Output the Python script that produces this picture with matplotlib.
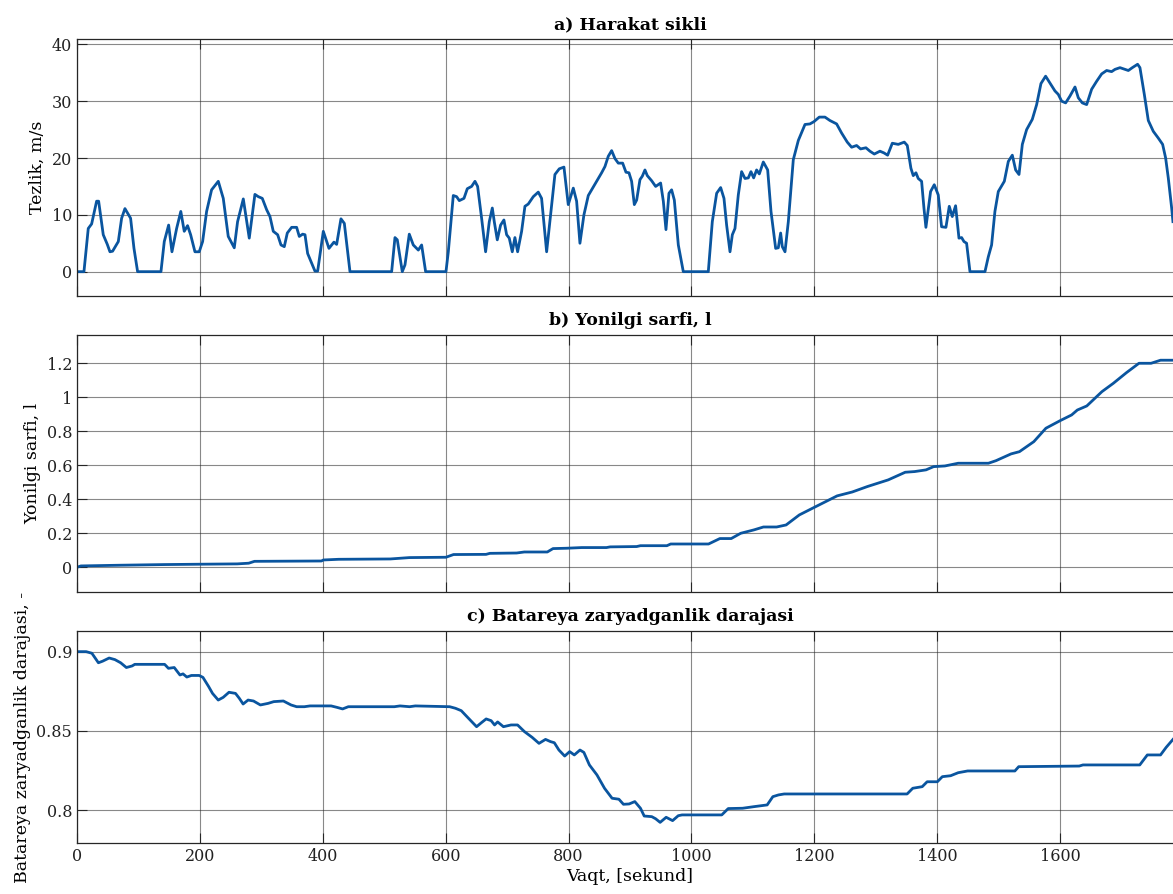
import numpy as np
import matplotlib
matplotlib.use("Agg")
import matplotlib.pyplot as plt
from matplotlib.ticker import FuncFormatter

# a) drive cycle speed, m/s
speed_t = [0, 11.4, 18.4, 23.9, 32, 35.3, 42.8, 49.4, 53.7, 58, 67.3, 72.7, 78.1, 87.3, 92.8, 98.7,
           136.7, 142.1, 149.2, 154.6, 162.2, 169, 174.6, 180, 185, 192, 199, 204.5, 211, 219.1, 230,
           238.1, 246.2, 256, 261.4, 270.7, 280.4, 289.6, 295.1, 301.6, 308.7, 314.1, 319.5, 326.6,
           332, 337.4, 342.3, 349.4, 357.5, 361.8, 367.3, 371.1, 375.4, 381.9, 387.3, 391.7, 400.9,
           410.1, 418.2, 422.6, 429.6, 435.1, 444.3, 512.1, 517.5, 521.3, 529.4, 533.8, 540.8, 547.3,
           555.5, 560.9, 567.4, 600.5, 604.3, 612.4, 617.8, 622.2, 629.8, 635.2, 642.2, 647.7, 652,
           658.5, 665, 671, 675.9, 679.1, 684, 689.4, 694.8, 699.2, 703.5, 708.4, 712.7, 717.1, 723.6,
           729, 734.4, 742.6, 750.7, 756.1, 764.3, 770.8, 777.8, 784.9, 792.5, 799.5, 807.7, 813.1,
           818.5, 825, 832.1, 839.1, 845.6, 853.8, 859.2, 864.6, 870.1, 875.5, 880.9, 888, 893.4,
           898.3, 902.6, 907, 910.8, 916.2, 920, 924.3, 928.1, 935.2, 941.7, 949.8, 954.2, 958.5,
           963.4, 967.7, 972.1, 978.6, 986.7, 1027.4, 1033.9, 1041, 1047.5, 1052.9, 1057.2, 1062.7,
           1066.5, 1070.8, 1076.2, 1081.6, 1087.1, 1092.5, 1096.8, 1101.2, 1106, 1110.4, 1116.9,
           1124, 1129.4, 1137, 1141.3, 1145.1, 1147.8, 1152.2, 1157.6, 1165.7, 1173.9, 1184.7,
           1192.8, 1199.3, 1208, 1217.2, 1225.3, 1236.2, 1244.3, 1253.5, 1260.6, 1268.7, 1275.2,
           1283.9, 1290.4, 1297.5, 1306.7, 1313.2, 1319.2, 1326.8, 1336.5, 1346.3, 1351.2, 1357.1,
           1360.9, 1365.3, 1369, 1374.5, 1378.3, 1381.5, 1389.1, 1395.1, 1401.6, 1407, 1414.1,
           1419.5, 1424.4, 1429.8, 1435.3, 1439.6, 1443.4, 1447.7, 1453.2, 1477.6, 1483, 1488.4,
           1493.8, 1499.3, 1509.1, 1515.6, 1522.1, 1527.5, 1533, 1538.4, 1545.4, 1554.6, 1561.7,
           1568.7, 1576.3, 1583.4, 1591.5, 1596.9, 1602.4, 1608.9, 1615.9, 1624.1, 1629.5, 1636,
           1643.1, 1651.2, 1659.3, 1667.5, 1675.6, 1683.7, 1689.2, 1697.3, 1705.4, 1710.9, 1717.4,
           1726, 1729.8, 1736.9, 1743.4, 1751.5, 1759.7, 1766.7, 1771.6, 1775.9, 1781.4, 1783.5]
speed_v = [0, 0, 7.6, 8.4, 12.4, 12.4, 6.5, 4.8, 3.5, 3.6, 5.3, 9.4, 11.1, 9.4, 4.1, 0,
           0, 5.3, 8.2, 3.5, 7.6, 10.6, 7.1, 8.1, 6.5, 3.5, 3.5, 5.3, 10.6, 14.4, 15.9,
           12.9, 6.2, 4.2, 8.8, 12.8, 5.9, 13.6, 13.2, 12.9, 10.9, 9.7, 7.1, 6.5,
           4.7, 4.4, 6.8, 7.8, 7.8, 6.2, 6.6, 6.5, 3.2, 1.5, 0.1, 0.1, 7.1,
           4.1, 5.2, 4.8, 9.3, 8.5, 0, 0, 6.0, 5.6, 0, 1.2, 6.6, 4.7,
           3.8, 4.7, 0, 0, 3.5, 13.4, 13.2, 12.5, 12.9, 14.6, 15.0, 15.9, 15.0,
           9.4, 3.5, 8.8, 11.2, 8.8, 5.6, 8.2, 9.1, 6.5, 5.9, 3.5, 6.0, 3.5, 7.1,
           11.5, 11.9, 13.2, 14.0, 12.9, 3.5, 10.0, 17.1, 18.1, 18.4, 11.8, 14.7, 12.4,
           5.0, 10.0, 13.4, 14.7, 15.9, 17.4, 18.5, 20.3, 21.3, 19.9, 19.1, 19.1, 17.5,
           17.4, 15.9, 11.8, 12.6, 16.2, 16.8, 17.9, 16.9, 16.0, 15.0, 15.6, 12.4, 7.4,
           13.8, 14.4, 12.6, 4.7, 0, 0, 8.8, 13.8, 14.8, 12.9, 8.2, 3.5,
           6.5, 7.6, 13.5, 17.6, 16.4, 16.5, 17.6, 16.5, 17.9, 17.2, 19.3,
           17.9, 10.6, 4.1, 4.2, 6.8, 4.4, 3.5, 8.8, 19.7, 23.1, 25.9,
           26.0, 26.4, 27.2, 27.2, 26.6, 26.0, 24.4, 22.8, 21.9, 22.2, 21.6,
           21.8, 21.2, 20.7, 21.2, 20.9, 20.5, 22.6, 22.4, 22.8, 22.2, 18.2,
           16.9, 17.4, 16.4, 15.9, 11.2, 7.8, 14.1, 15.3, 13.5, 7.9, 7.8,
           11.5, 9.7, 11.6, 5.9, 6.0, 5.3, 5.0, 0, 0, 2.6, 4.7,
           10.6, 14.1, 15.9, 19.4, 20.5, 17.9, 17.1, 22.4, 25.0, 26.8, 29.4,
           33.1, 34.4, 33.2, 31.8, 31.2, 30.0, 29.7, 30.9, 32.5, 30.6, 29.7,
           29.4, 32.1, 33.5, 34.8, 35.4, 35.2, 35.6, 35.9, 35.6, 35.4, 35.9,
           36.5, 35.9, 31.2, 26.6, 24.7, 23.5, 22.4, 20.0, 16.5, 11.2, 8.8]

# b) cumulative fuel use, l
fuel_t = [0, 6.4, 68, 142.5, 198.5, 260.8, 279.5, 288.9, 397.8, 401, 425.9, 510, 541, 600.4,
          612.8, 665.7, 671.9, 715.5, 728, 765.4, 774.7, 796.5, 821.4, 861.6, 867.7, 910.8, 917,
          960, 966.2, 1027.8, 1046.2, 1064.7, 1080.1, 1101.7, 1117.1, 1138.6, 1154, 1175.5, 1200.1,
          1237, 1261.7, 1286.3, 1320.1, 1347.8, 1363.2, 1381.7, 1394, 1412.4, 1434, 1483.2, 1495.5,
          1520.1, 1533.7, 1557.1, 1576.8, 1600.2, 1618.6, 1627.9, 1643.3, 1667.9, 1686.4, 1707.9,
          1728.2, 1747.9, 1763.3, 1783.6]
fuel_v = [0, 0.008, 0.012, 0.016, 0.018, 0.02, 0.024, 0.035, 0.037, 0.043, 0.047, 0.049, 0.057, 0.059,
          0.075, 0.076, 0.082, 0.084, 0.09, 0.09, 0.11, 0.112, 0.116, 0.116, 0.12, 0.122, 0.127,
          0.127, 0.137, 0.137, 0.169, 0.169, 0.2, 0.22, 0.237, 0.237, 0.249, 0.308, 0.353,
          0.42, 0.443, 0.475, 0.514, 0.559, 0.563, 0.573, 0.592, 0.596, 0.612, 0.612, 0.627,
          0.667, 0.68, 0.739, 0.818, 0.863, 0.896, 0.925, 0.949, 1.033, 1.082, 1.145,
          1.2, 1.2, 1.218, 1.218]

# c) battery state of charge, -
soc_t = [0, 15, 24.3, 34.9, 41.8, 52.4, 61.7, 71.1, 80.4, 89.8, 94.1, 142.7, 148.9, 158.3, 167.6,
         172.6, 178.8, 186.3, 198.8, 205, 214.3, 220.6, 229.9, 238, 247.4, 258, 264.2, 270.4, 278.5,
         287.3, 298.5, 311, 320.3, 335.9, 348.4, 357.5, 370, 379.3, 413.6, 423, 432.3, 441.6, 516.4,
         525.7, 541.3, 550.6, 606.6, 616, 625.4, 634.7, 650.3, 658.4, 665.9, 674, 679.6, 684.6, 694,
         706.4, 717, 728.2, 740.7, 751.9, 762.5, 770.6, 776.8, 784.3, 793.7, 801.8, 809.3, 818.6,
         824.9, 833.9, 846.2, 858.5, 870.8, 881.9, 889.3, 898.5, 907.8, 917, 923.1, 935.4, 941.6,
         949, 958.8, 969.3, 978.5, 984.7, 1049.3, 1059.8, 1083.2, 1101.6, 1123.2, 1132.4, 1141.6,
         1150.9, 1350.9, 1360.1, 1375.5, 1383.5, 1400.1, 1408.2, 1421.7, 1434, 1449.4, 1526.3,
         1532.5, 1631, 1637.1, 1729.5, 1741.8, 1763.3, 1772.5, 1783.6]
soc_v = [0.9, 0.9, 0.899, 0.893, 0.894, 0.896, 0.895, 0.893, 0.890, 0.891, 0.892, 0.892, 0.8895, 0.890,
         0.8853, 0.886, 0.884, 0.885, 0.885, 0.8838, 0.878, 0.8737, 0.8695, 0.8712, 0.8744, 0.8737,
         0.8706, 0.867, 0.8695, 0.8689, 0.8664, 0.8674, 0.8685, 0.8689, 0.8664, 0.8653, 0.8653,
         0.8658, 0.8658, 0.8649, 0.8639, 0.8653, 0.8653, 0.8658, 0.8653, 0.8658, 0.8653, 0.8643,
         0.8628, 0.859, 0.8527, 0.8553, 0.8576, 0.8565, 0.8538, 0.8557, 0.8527, 0.8538, 0.8538,
         0.8496, 0.846, 0.8422, 0.8447, 0.8433, 0.8426, 0.838, 0.8342, 0.837, 0.8349, 0.838,
         0.8365, 0.8286, 0.8223, 0.8139, 0.8076, 0.807, 0.8038, 0.804, 0.8055, 0.8013, 0.7964,
         0.796, 0.7947, 0.7924, 0.7956, 0.7935, 0.7966, 0.7971, 0.7971, 0.8011, 0.8013, 0.8023,
         0.8034, 0.8086, 0.8097, 0.8103, 0.8103, 0.8139, 0.8149, 0.818, 0.818, 0.8212, 0.8218,
         0.8237, 0.8248, 0.8248, 0.8275, 0.8279, 0.8286, 0.8286, 0.8349, 0.8349, 0.8397, 0.8447]

titles = ["a) Harakat sikli", "b) Yonilgi sarfi, l", "c) Batareya zaryadganlik darajasi"]
ylabels = ["Tezlik, m/s", "Yonilgi sarfi, l", "Batareya zaryadganlik darajasi, -"]
yticks = [[0, 10, 20, 30, 40], [0, 0.2, 0.4, 0.6, 0.8, 1.0, 1.2], [0.8, 0.85, 0.9]]
ylims = [(-4.33, 40.9), (-0.147, 1.368), (0.7792, 0.9132)]
xticks = list(range(0, 1601, 200))

plt.rcParams["font.family"] = ["DejaVu Serif"]
line_color = "#0a559f"
ink = "#262626"

fig = plt.figure(figsize=(11.73, 8.94), dpi=100)
# axes run a little past the right edge of the figure, so the 1800 s end is cut off
left, width = 0.0656, 0.943
boxes = [(0.6686, 0.2875), (0.3375, 0.2881), (0.0567, 0.2378)]

series = [(speed_t, speed_v), (fuel_t, fuel_v), (soc_t, soc_v)]
for i, ((bottom, height), (t, v)) in enumerate(zip(boxes, series)):
    ax = fig.add_axes([left, bottom, width, height])
    ax.plot(t, v, color=line_color, lw=2.0, solid_joinstyle="round")
    ax.set_xlim(0, 1800)
    ax.set_ylim(*ylims[i])
    ax.set_xticks(xticks)
    ax.set_yticks(yticks[i])
    ax.yaxis.set_major_formatter(FuncFormatter(lambda val, pos: "%g" % val))
    ax.grid(True, color=ink, alpha=0.55, lw=0.8)
    ax.tick_params(direction="in", length=7, width=0.8, colors=ink, labelsize=11.5,
                   top=True, right=True, labelcolor="#222222")
    for s in ax.spines.values():
        s.set_color(ink)
        s.set_linewidth(0.9)
    ax.set_title(titles[i], fontsize=12.5, fontweight="bold", pad=7)
    ax.set_ylabel(ylabels[i], fontsize=12.5, labelpad=4)
    if i < 2:
        ax.tick_params(labelbottom=False)
    else:
        ax.set_xlabel("Vaqt, [sekund]", fontsize=12.5, labelpad=2)

fig.savefig("out.png", dpi=100)
